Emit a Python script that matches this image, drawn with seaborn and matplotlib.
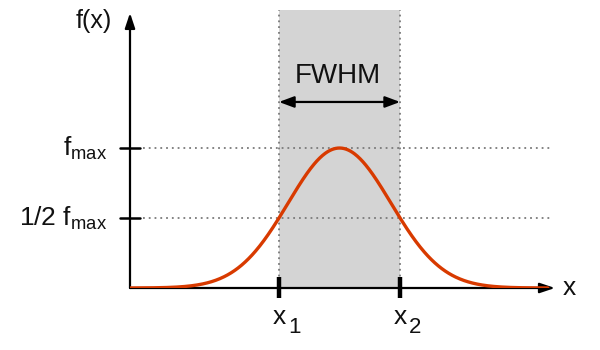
import numpy as np
import pandas as pd
import seaborn as sns
import matplotlib
matplotlib.use("Agg")
import matplotlib.pyplot as plt

# ---- data (diagram parameters) ----
f_max = 1.0                 # peak height
center = 4.93               # peak position
fwhm = 2.85                 # full width at half maximum
x_start, x_end = 0.0, 9.83  # extent of the drawn curve
y_tick_values = [f_max / 2, f_max]
y_tick_labels = [r"1/2 $\mathregular{f_{max}}$", r"$\mathregular{f_{max}}$"]
x_tick_labels = ["1", "2"]

sigma = fwhm / (2 * np.sqrt(2 * np.log(2)))
x1, x2 = center - fwhm / 2, center + fwhm / 2
xs = np.linspace(x_start, x_end, 600)
df = pd.DataFrame({"x": xs, "f": f_max * np.exp(-0.5 * ((xs - center) / sigma) ** 2)})

sns.set_theme(style="white")
plt.rcParams["font.family"] = ["Liberation Sans", "DejaVu Sans"]
plt.rcParams["mathtext.fontset"] = "custom"
plt.rcParams["mathtext.rm"] = "Liberation Sans"
plt.rcParams["mathtext.it"] = "Liberation Sans:italic"

fig = plt.figure(figsize=(6, 3.5), dpi=100)
ax = fig.add_axes([130 / 600, 62 / 350, 425 / 600, 278 / 350])
ax.set_xlim(0, 10)
ax.set_ylim(0, 1.986)
for s in ax.spines.values():
    s.set_visible(False)
ax.set_xticks([])
ax.set_yticks([])

# shaded FWHM band
ax.axvspan(x1, x2, color="#d4d4d4", lw=0, zorder=0)

# dotted guides
dot = dict(color="#7a7a7a", lw=1.3, ls=(0, (1, 2.2)), zorder=1)
for yv in y_tick_values:
    ax.plot([0.3, 9.88], [yv, yv], **dot)
for xv in (x1, x2):
    ax.plot([xv, xv], [0, 1.986], **dot)

# axes with arrows
ax.annotate("", xy=(0, 1.965), xytext=(0, 0),
            arrowprops=dict(arrowstyle="-|>,head_length=0.75,head_width=0.25",
                            lw=1.6, color="black", shrinkA=0, shrinkB=0), zorder=3)
ax.annotate("", xy=(10.0, 0), xytext=(0, 0),
            arrowprops=dict(arrowstyle="-|>,head_length=0.75,head_width=0.25",
                            lw=1.6, color="black", shrinkA=0, shrinkB=0), zorder=3)

# curve
sns.lineplot(data=df, x="x", y="f", ax=ax, color="#d83a00", lw=2.4, zorder=4)
ax.set_xlabel("")
ax.set_ylabel("")

# tick marks
for yv in y_tick_values:
    ax.plot([-0.235, 0.235], [yv, yv], color="black", lw=1.8, clip_on=False, zorder=5)
for xv in (x1, x2):
    ax.plot([xv, xv], [-0.075, 0.08], color="black", lw=3.2, clip_on=False,
            solid_capstyle="butt", zorder=5)

# y labels
for yv, lab in zip(y_tick_values, y_tick_labels):
    ax.text(-0.54, yv, lab, ha="right", va="center", fontsize=19, color="#111111")

# x labels with subscripts
for xv, sub in zip((x1, x2), x_tick_labels):
    ax.annotate("x", xy=(xv, 0), xytext=(0, -12), textcoords="offset points",
                ha="center", va="top", fontsize=19, color="#111111", annotation_clip=False)
    ax.annotate(sub, xy=(xv, 0), xytext=(11, -21), textcoords="offset points",
                ha="center", va="top", fontsize=16, color="#111111", annotation_clip=False)

# axis labels
ax.text(-0.42, 1.907, "f(x)", ha="right", va="center", fontsize=18, color="#111111")
ax.text(10.18, 0.0, "x", ha="left", va="center", fontsize=19, color="#111111")

# FWHM arrow and label
ax.annotate("", xy=(x2, 1.329), xytext=(x1, 1.329),
            arrowprops=dict(arrowstyle="<|-|>,head_length=0.75,head_width=0.28",
                            lw=1.6, color="black", shrinkA=0, shrinkB=0), zorder=5)
ax.text(center - 0.05, 1.514, "FWHM", ha="center", va="center", fontsize=20, color="#111111")

fig.savefig("out.png", dpi=100)
